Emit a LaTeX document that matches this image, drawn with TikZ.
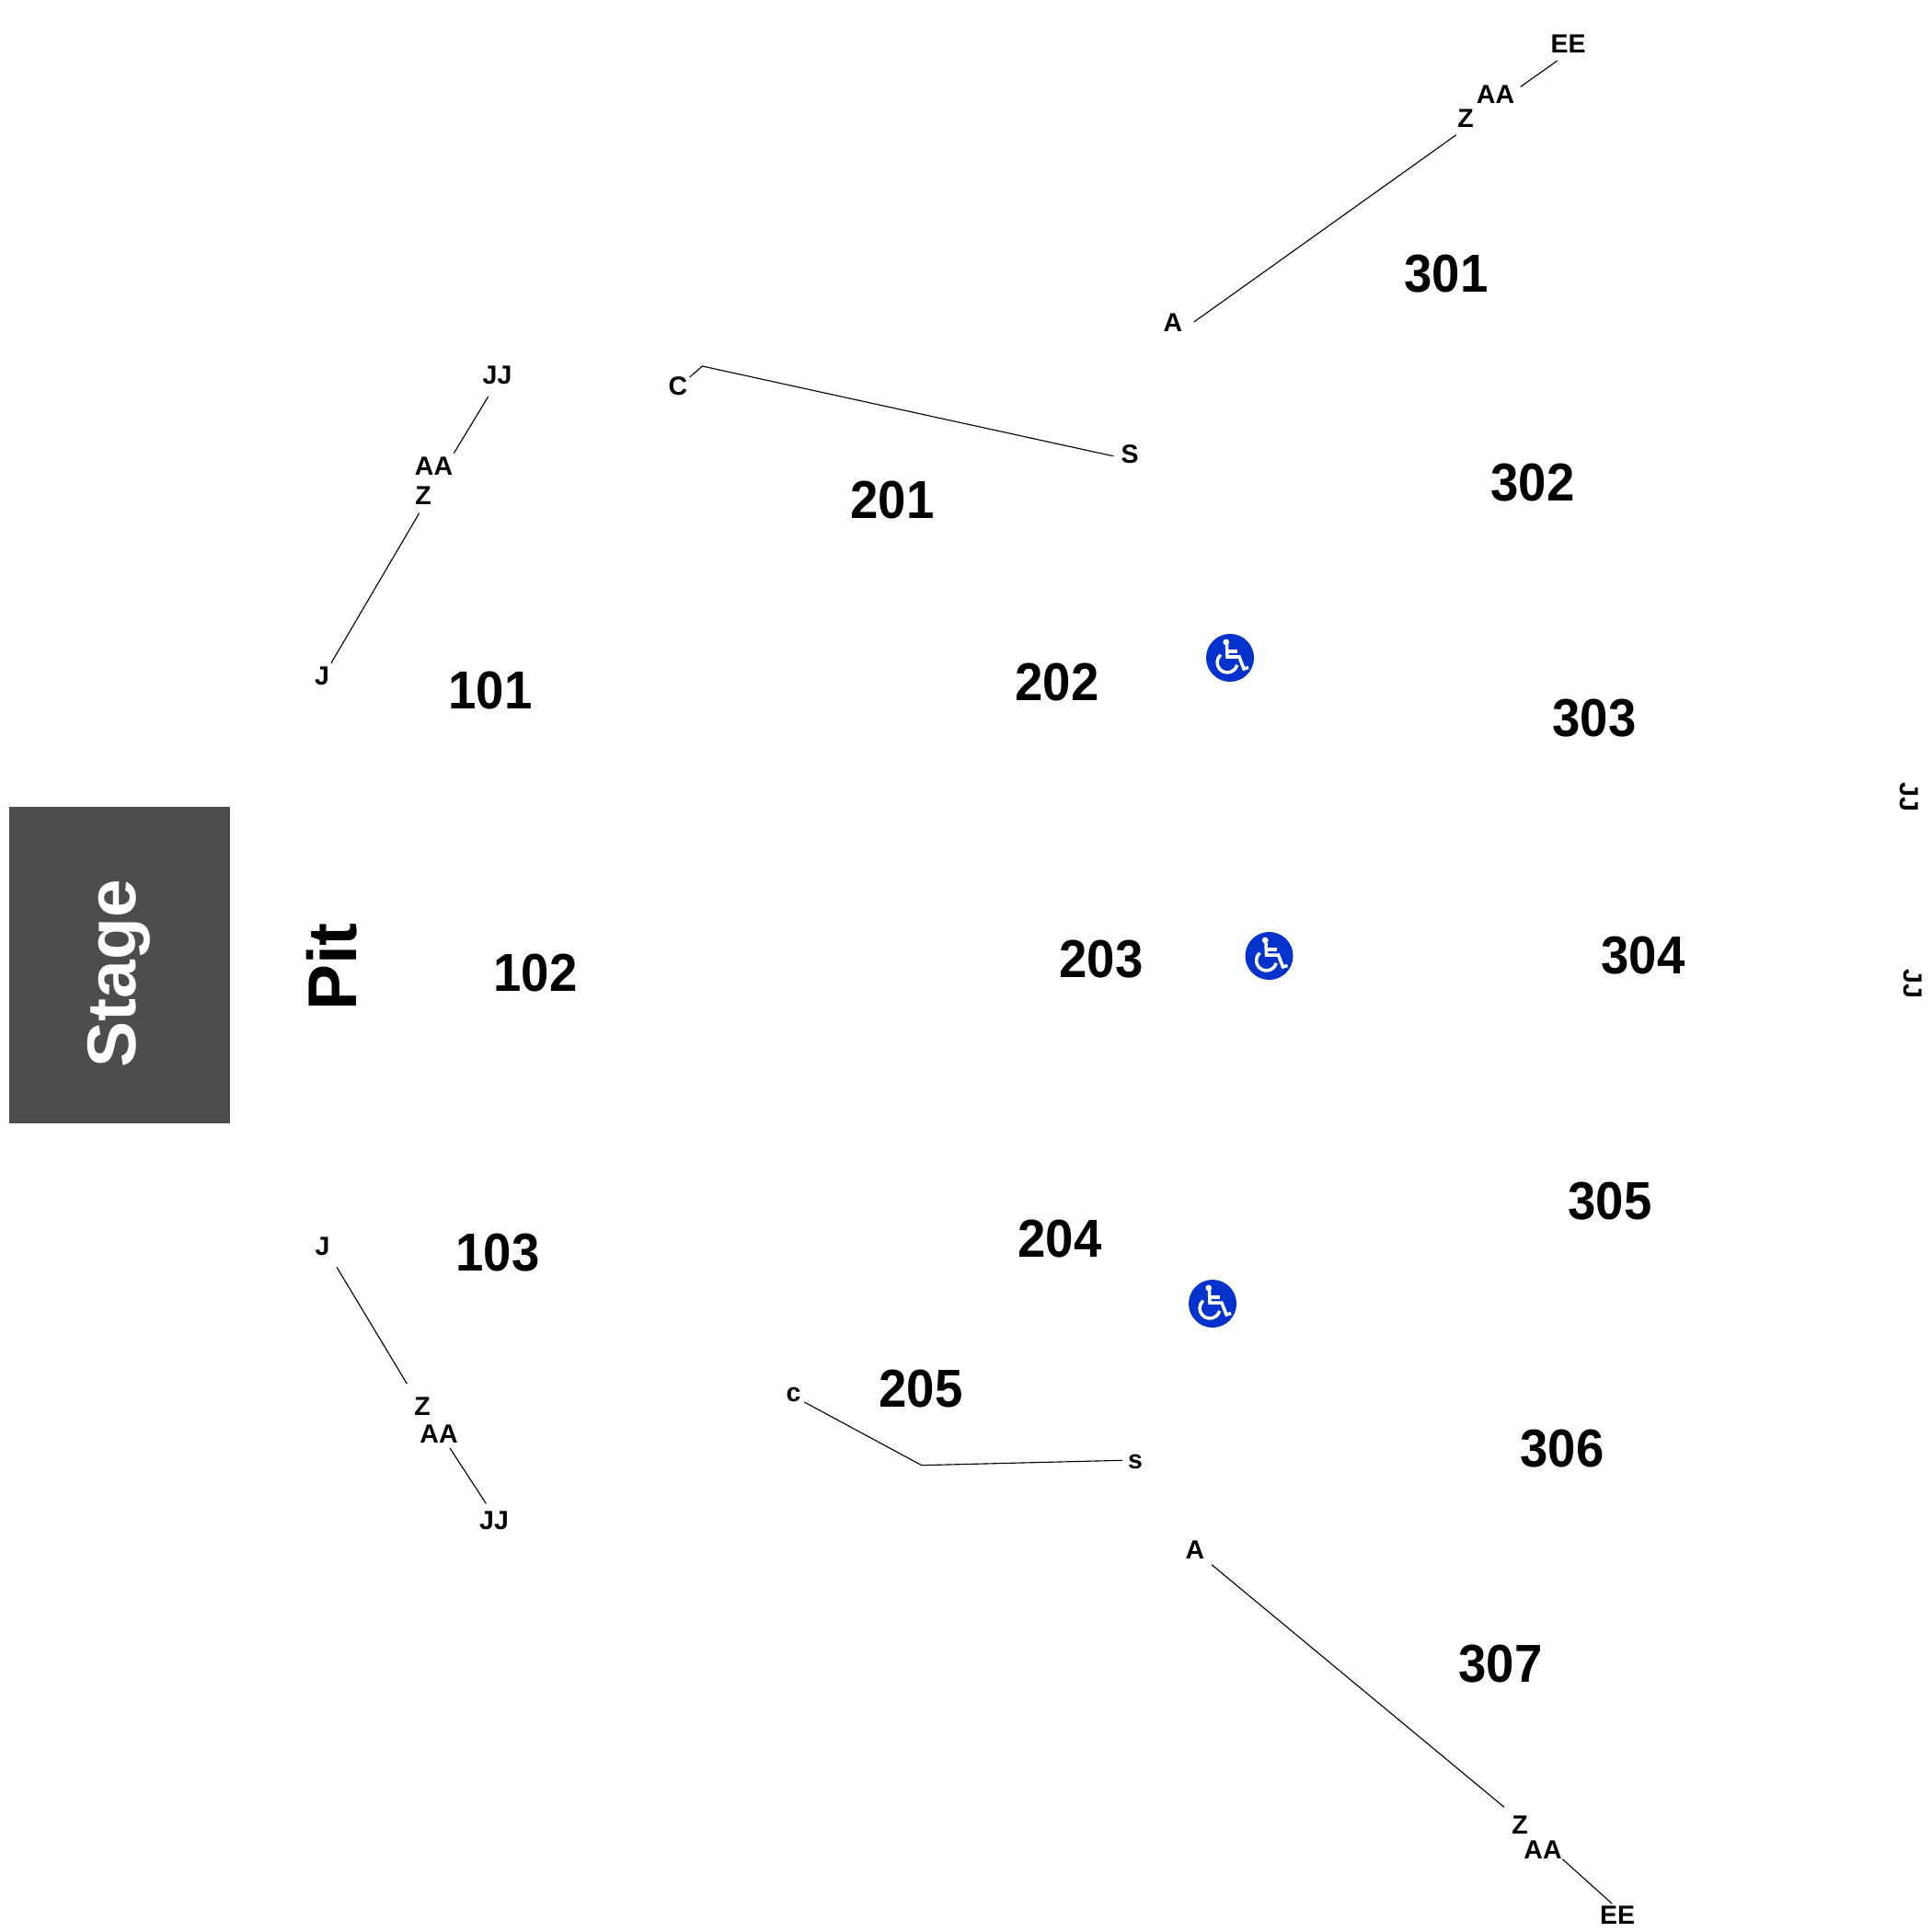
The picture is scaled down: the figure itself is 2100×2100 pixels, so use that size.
\documentclass[tikz,border=0pt]{standalone}
\usepackage{fontspec}
\setmainfont{Liberation Sans}
\newfontfamily\sectionfont[FakeStretch=0.94]{Liberation Sans}
\usetikzlibrary{
    calc,
}
\definecolor{stagegray}{RGB}{77,77,77}
\definecolor{accessblue}{RGB}{3,50,205}

\begin{document}
\begin{tikzpicture}[
        x=0.01cm, y=-0.01cm,
        section/.style={inner sep=0pt, font=\sectionfont\bfseries\fontsize{16.5}{18}\selectfont},
        row/.style={inner sep=0pt, font=\bfseries\fontsize{8.1}{9}\selectfont},
        stage-box/.style={fill=stagegray, inner sep=0pt, minimum width=2.4cm, minimum height=3.44cm},
        big-label/.style={inner sep=0pt, rotate=90, font=\bfseries\fontsize{21.3}{24}\selectfont},
        row-line/.style={draw=black, line width=0.32pt},
        access/.style={circle, fill=accessblue, minimum size=0.52cm, inner sep=0pt},
        wheelchair/.pic={
            \fill[white] (-4.3,-17) circle (3.4);
            \draw[white, line width=1pt] (-3.5,-14) -- (-3,-1) -- (10,-1) -- (15,12) -- (20,10.5);
            \draw[white, line width=1pt] (-3,-7) -- (8,-7);
            \draw[white, line width=1pt] (-10.2,-3.3) arc[start angle=229, end angle=15, radius=11];
        },
    ]
        \useasboundingbox (0,0) rectangle (2100,2100);

        % Stage and pit
        \node[stage-box] (stage) at (130,1049) {};
        \node[big-label, text=white] (stagetext) at (129,1058) {Stage};
        \node[big-label] (pit) at (361,1051) {Pit};

        % Section numbers
        \foreach \num/\x/\y in {101/533/751, 102/582/1058, 103/541/1362,
                201/970/544, 202/1149/742, 203/1197/1043, 204/1152/1347, 205/1001/1510,
                301/1572/298, 302/1666/525, 303/1733/781, 304/1786/1039,
                305/1750/1306, 306/1698/1575, 307/1631/1809} {
            \node[section] (sec\num) at (\x,\y) {\num};
        }

        % Row letters
        \foreach \name/\txt/\x/\y in {JJa/JJ/540.5/408, AAa/AA/471.5/507, Za/Z/460/539, Ja/J/350/735,
                Jb/J/350.5/1355, Zb/Z/459/1529, AAb/AA/477/1559, JJb/JJ/537/1653,
                Cc/C/737/419.5, Sc/S/1228/494,
                cd/c/862.5/1516, sd/s/1234/1589,
                EEe/EE/1704.5/48, AAe/AA/1625.5/103, Ze/Z/1593/129, Ae/A/1275/351,
                Af/A/1299/1685, Zf/Z/1652/1984, AAf/AA/1677/2011, EEf/EE/1758/2082} {
            \node[row] (\name) at (\x,\y) {\txt};
        }
        \node[row, rotate=-90] (JJg) at (2075.5,866) {JJ};
        \node[row, rotate=-90] (JJh) at (2079.5,1069) {JJ};

        % Bends
        \coordinate (bendc) at (763.4,398);
        \coordinate (bendd) at (1001.7,1592.7);

        % Row lines
        \draw[row-line] ([shift={(-9.8,23)}]JJa.center) -- ([shift={(21.8,-14.3)}]AAa.center);
        \draw[row-line] ([shift={(-4.3,18.7)}]Za.center) -- ([shift={(10,-14.3)}]Ja.center);
        \draw[row-line] ([shift={(15.5,22.3)}]Jb.center) -- ([shift={(-16.7,-25)}]Zb.center);
        \draw[row-line] ([shift={(12,15)}]AAb.center) -- ([shift={(-8.7,-18.7)}]JJb.center);
        \draw[row-line] ([shift={(12.6,-9.5)}]Cc.center) -- (bendc) -- ([shift={(-17.6,1.8)}]Sc.center);
        \draw[row-line] ([shift={(11.8,8)}]cd.center) -- (bendd) -- ([shift={(-14,-1.7)}]sd.center);
        \draw[row-line] ([shift={(-11.8,18)}]EEe.center) -- ([shift={(27.2,-8.7)}]AAe.center);
        \draw[row-line] ([shift={(-10.3,17.7)}]Ze.center) -- ([shift={(22.7,-1)}]Ae.center);
        \draw[row-line] ([shift={(18,15.7)}]Af.center) -- ([shift={(-17,-19.7)}]Zf.center);
        \draw[row-line] ([shift={(21.3,9.7)}]AAf.center) -- ([shift={(-5.7,-12.7)}]EEf.center);

        % Accessible seating
        \foreach \name/\x/\y in {wa/1337/715, wb/1379.5/1039, wc/1318/1417} {
            \node[access] (\name) at (\x,\y) {};
            \pic at (\name) {wheelchair};
        }
    \end{tikzpicture}
\end{document}
